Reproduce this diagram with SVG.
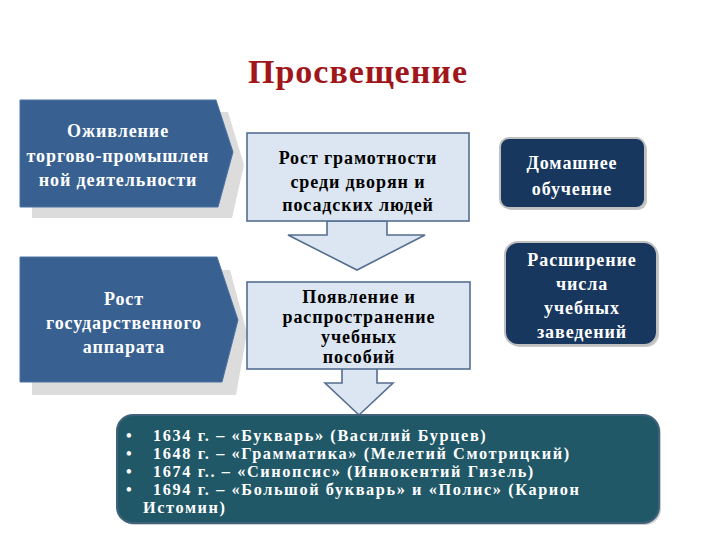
<svg xmlns="http://www.w3.org/2000/svg" width="720" height="540" viewBox="0 0 720 540">
<style>
text{font-family:"Liberation Serif","Times New Roman",serif;font-weight:bold}
.t{text-anchor:middle}
.w{fill:#FFFFFF;font-size:18px;letter-spacing:0.9px}
.k{fill:#000000;font-size:18px;letter-spacing:0.9px}
.chev{fill:#386192;stroke:#4A73A3;stroke-width:1}
.shd{fill:#DCDCDC}
.box{fill:#DCE6F2;stroke:#556E90;stroke-width:1.6}
.arr{fill:#DCE6F2;stroke:#556E90;stroke-width:1.6;stroke-linejoin:miter}
.nv{fill:#17375E;stroke:#BFBFBF;stroke-width:2}
.li{fill:#FFFFFF;font-size:16.3px;letter-spacing:1.6px}
</style>
<rect width="720" height="540" fill="#FFFFFF"/>
<text x="358" y="83" class="t" style="font-size:34px;letter-spacing:1px;fill:#A0161A">Просвещение</text>

<g id="n1">
<polygon class="shd" points="32,112 228,112 244,165 232,218 32,218"/>
<polygon class="chev" points="20,100 216,100 233,152 218,207 20,207"/>
<text class="t w" x="118" y="137">Оживление</text>
<text class="t w" x="118" y="162">торгово-промышлен</text>
<text class="t w" x="118" y="186">ной деятельности</text>
</g>

<g id="n2">
<polygon class="shd" points="32,270 230,270 247,333 236,395 32,395"/>
<polygon class="chev" points="20,257 217,257 238,320 222,382 20,382"/>
<text class="t w" x="124" y="305">Рост</text>
<text class="t w" x="124" y="329">государственного</text>
<text class="t w" x="124" y="353">аппарата</text>
</g>

<g id="connectors">
<polygon class="arr" points="327,221 387,221 387,235 425,235 357,270 288,235 327,235"/>
<polygon class="arr" points="342,368 377,368 377,383 393,383 359,415 325,383 342,383"/>
</g>

<g id="n3">
<rect class="box" x="247" y="133" width="222" height="88"/>
<text class="t k" x="358" y="164">Рост грамотности</text>
<text class="t k" x="358" y="188">среди дворян и</text>
<text class="t k" x="358" y="211">посадских людей</text>
</g>

<g id="n4">
<rect class="box" x="247" y="282" width="223" height="87"/>
<text class="t k" x="359" y="303">Появление и</text>
<text class="t k" x="359" y="323">распространение</text>
<text class="t k" x="359" y="343">учебных</text>
<text class="t k" x="359" y="363">пособий</text>
</g>

<g id="n5">
<rect x="502" y="140" width="145" height="70" rx="9" fill="#C8C8C8"/>
<rect class="nv" x="500" y="138" width="145" height="70" rx="9"/>
<text class="t w" x="572" y="169">Домашнее</text>
<text class="t w" x="572" y="195">обучение</text>
</g>

<g id="n6">
<rect x="507" y="244" width="152" height="103" rx="13" fill="#C8C8C8"/>
<rect class="nv" x="505" y="242" width="152" height="103" rx="13"/>
<text class="t w" x="582" y="266">Расширение</text>
<text class="t w" x="582" y="290">числа</text>
<text class="t w" x="582" y="314">учебных</text>
<text class="t w" x="582" y="338">заведений</text>
</g>

<g id="n7">
<rect x="119" y="417" width="542" height="108" rx="16" fill="#D0D0D0"/>
<rect x="117" y="415" width="542" height="108" rx="16" fill="#215868" stroke="#3F627A" stroke-width="2"/>
<text class="li" x="126" y="441">•<tspan x="153">1634 г. – «Букварь» (Василий Бурцев)</tspan></text>
<text class="li" x="126" y="459">•<tspan x="153">1648 г. – «Грамматика» (Мелетий Смотрицкий)</tspan></text>
<text class="li" x="126" y="477">•<tspan x="153">1674 г.. – «Синопсис» (Иннокентий Гизель)</tspan></text>
<text class="li" x="126" y="495">•<tspan x="153">1694 г. – «Большой букварь» и «Полис» (Карион</tspan></text>
<text class="li" x="143" y="513">Истомин)</text>
</g>
</svg>
